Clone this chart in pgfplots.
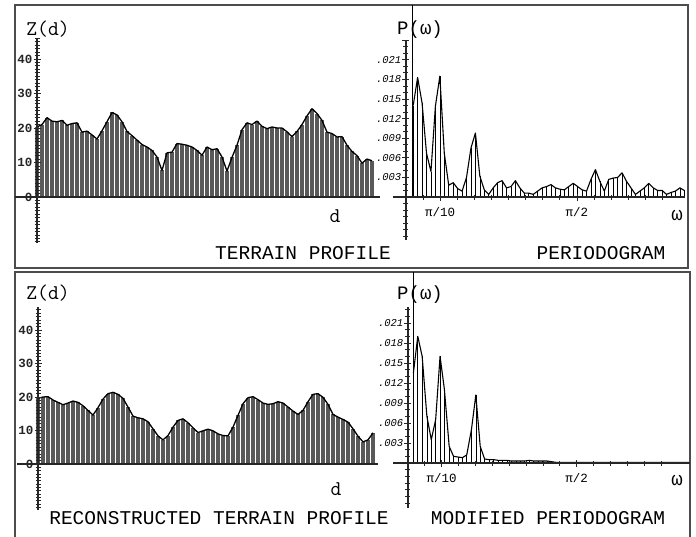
\documentclass[border=0pt]{standalone}
\usepackage{fontspec}
\usepackage{pgfplots}
\usepackage{pgfplotstable}
\pgfplotsset{compat=1.18}
\newfontfamily\plotfont{Liberation Mono}

\pgfplotstableread{
k z
0 20.3
1 21.0
2 23.0
3 22.0
4 21.8
5 22.2
6 20.8
7 21.3
8 21.5
9 18.8
10 19.1
11 18.0
12 16.8
13 19.2
14 21.8
15 24.5
16 23.8
17 21.8
18 19.0
19 17.8
20 16.5
21 15.2
22 14.5
23 13.5
24 11.6
25 7.7
26 12.8
27 13.0
28 15.5
29 15.3
30 15.0
31 14.5
32 13.5
33 12.1
34 14.5
35 13.7
36 14.0
37 11.6
38 7.5
39 11.5
40 15.0
41 19.5
42 21.5
43 21.0
44 22.0
45 20.5
46 19.8
47 20.3
48 20.0
49 20.0
50 18.9
51 17.5
52 19.0
53 21.0
54 23.5
55 25.6
56 24.2
57 22.2
58 18.8
59 18.4
60 17.4
61 17.5
62 15.0
63 13.2
64 12.0
65 9.8
66 11.0
67 10.5
}\profileA

\pgfplotstableread{
k z
0 19.6
1 20.0
2 20.1
3 19.1
4 18.4
5 17.7
6 18.2
7 18.8
8 18.4
9 17.4
10 16.0
11 14.6
12 16.8
13 19.4
14 21.0
15 21.4
16 20.8
17 19.6
18 17.0
19 14.3
20 13.8
21 13.5
22 12.6
23 10.5
24 8.4
25 7.2
26 8.5
27 11.0
28 13.0
29 13.5
30 12.3
31 10.8
32 9.4
33 9.9
34 10.4
35 9.9
36 9.0
37 8.5
38 8.4
39 11.0
40 14.5
41 18.0
42 19.8
43 20.1
44 19.2
45 18.2
46 17.8
47 18.0
48 18.6
49 18.2
50 17.0
51 15.8
52 14.8
53 16.0
54 18.6
55 20.8
56 21.0
57 19.9
58 17.8
59 14.8
60 14.0
61 13.3
62 12.5
63 10.5
64 8.3
65 6.6
66 7.2
67 9.3
}\profileB

\pgfplotstableread{
w p
0.021 0.0140
0.034 0.0183
0.047 0.0144
0.060 0.0067
0.073 0.0039
0.086 0.0139
0.099 0.0185
0.112 0.0067
0.125 0.0018
0.138 0.0022
0.151 0.0013
0.164 0.0009
0.177 0.0030
0.190 0.0075
0.203 0.0098
0.216 0.0032
0.229 0.0011
0.242 0.0004
0.255 0.0014
0.268 0.0022
0.281 0.0025
0.294 0.0014
0.307 0.0016
0.320 0.0025
0.333 0.0014
0.346 0.0006
0.359 0.0006
0.372 0.0004
0.385 0.0009
0.398 0.0014
0.411 0.0016
0.424 0.0019
0.437 0.0014
0.450 0.0012
0.463 0.0011
0.476 0.0016
0.489 0.0021
0.502 0.0016
0.515 0.0011
0.528 0.0009
0.541 0.0027
0.554 0.0042
0.567 0.0024
0.580 0.0009
0.593 0.0027
0.606 0.0029
0.619 0.0030
0.632 0.0037
0.645 0.0024
0.658 0.0014
0.671 0.0004
0.684 0.0009
0.697 0.0014
0.710 0.0021
0.723 0.0014
0.736 0.0010
0.749 0.0010
0.762 0.0004
0.775 0.0007
0.788 0.0009
0.801 0.0014
0.814 0.0010
}\perA

\pgfplotstableread{
w p
0.016 0.0135
0.029 0.0190
0.042 0.0160
0.056 0.0070
0.069 0.0035
0.082 0.0065
0.095 0.0160
0.108 0.0110
0.122 0.0025
0.135 0.0010
0.148 0.0009
0.161 0.0008
0.174 0.0012
0.188 0.0050
0.201 0.0102
0.214 0.0025
0.227 0.0006
0.240 0.0005
0.254 0.0005
0.267 0.0004
0.280 0.0004
0.293 0.0004
0.306 0.0003
0.320 0.0003
0.333 0.0003
0.346 0.0003
0.359 0.0004
0.372 0.0003
0.386 0.0003
0.399 0.0003
0.412 0.0003
0.425 0.0002
0.438 0.0001
0.452 0.0001
0.465 0.0001
0.478 0.0001
0.491 0.0001
0.504 0.0001
0.518 0.0001
0.531 0.0001
0.544 0.0001
0.557 0.0001
0.570 0.0001
0.584 0.0001
0.597 0.0001
0.610 0.0001
0.623 0.0001
0.636 0.0001
0.650 0.0001
0.663 0.0001
0.676 0.0001
0.689 0.0001
0.702 0.0001
0.716 0.0001
0.729 0.0001
0.742 0.0001
0.755 0.0001
0.768 0.0001
0.782 0.0001
0.795 0.0001
0.808 0.0001
0.821 0.0001
0.834 0.0001
}\perB

\pgfplotsset{
  panel/.style={scale only axis, axis lines=middle, enlargelimits=false, clip=false,
    axis on top, anchor=south west,
    axis line style={-, line width=1.2pt, black!85},
    every tick/.style={black!85, line width=0.9pt},
    tick align=center, major tick length=7pt, minor tick length=5pt,
    hide obscured x ticks=false, hide obscured y ticks=false},
  terrain/.style={panel, xtick=\empty, minor xtick={2.667,5.333,...,68},
    ytick={0,10,20,30,40}, yticklabels={0,10,20,30,40}, minor ytick={-13,-12,...,46},
    yticklabel style={font=\plotfont\bfseries\fontsize{12.5}{12.5}\selectfont, inner sep=1pt, text=black!85}},
  period/.style={panel, scaled y ticks=false, scaled x ticks=false,
    xtick={0.1,0.5}, xticklabels={π/10,π/2}, minor xtick={0.05,0.15,0.2,...,0.8},
    xticklabel style={font=\plotfont\fontsize{12.5}{12.5}\selectfont, yshift=-3pt},
    ytick={0.003,0.006,0.009,0.012,0.015,0.018,0.021},
    yticklabels={.003,.006,.009,.012,.015,.018,.021},
    extra y ticks={0.024}, extra y tick labels={},
    minor ytick={-0.006,-0.005,...,0.023},
    yticklabel style={font=\plotfont\itshape\fontsize{10.5}{10.5}\selectfont, inner sep=1pt}},
  comb/.style={ycomb, black!65, line width=3.3pt},
  outline/.style={black, line width=1.3pt, line join=round},
  pcomb/.style={ycomb, black, line width=0.6pt},
  pline/.style={black, line width=1.1pt, line join=round},
}

\begin{document}
\begin{tikzpicture}
\useasboundingbox (0pt,0pt) rectangle (696pt,536pt);
% frames
\draw[line width=1.6pt, black!70] (15pt,268pt) rectangle (688pt,531pt);
\draw[line width=1.6pt, black!70] (15pt,-3pt) -- (15pt,264pt) -- (690pt,264pt) -- (690pt,-3pt);

% top-left terrain profile
\begin{axis}[terrain, at={(15pt,293pt)}, width=365pt, height=205pt,
  xmin=-4.4, xmax=68.6, ymin=-13.33, ymax=46.09]
  \addplot[comb] table[x=k,y=z] {\profileA};
  \addplot[outline] table[x=k,y=z] {\profileA};
\end{axis}

% top-right periodogram
\begin{axis}[period, at={(393pt,296pt)}, width=292pt, height=200pt,
  xmin=-0.038, xmax=0.816, ymin=-0.00658, ymax=0.02404]
  \addplot[pcomb, line width=0.9pt] coordinates {(0.020,0.0294)};
  \addplot[pcomb] table[x=w,y=p] {\perA};
  \addplot[pline] table[x=w,y=p] {\perA};
\end{axis}

% bottom-left reconstructed profile
\begin{axis}[terrain, at={(17pt,26pt)}, width=361pt, height=203pt,
  xmin=-4.2, xmax=68, ymin=-13.73, ymax=46.87]
  \addplot[comb] table[x=k,y=z] {\profileB};
  \addplot[outline] table[x=k,y=z] {\profileB};
\end{axis}

% bottom-right modified periodogram
\begin{axis}[period, at={(393pt,28pt)}, width=297pt, height=201pt,
  xmin=-0.0444, xmax=0.8356, ymin=-0.00675, ymax=0.0234]
  \addplot[pcomb, line width=0.9pt] coordinates {(0.015,0.0286)};
  \addplot[pcomb] table[x=w,y=p] {\perB};
  \addplot[pline] table[x=w,y=p] {\perB};
\end{axis}

% labels
\node[font=\ttfamily\fontsize{21}{21}\selectfont] at (48pt,507pt) {Z(d)};
\node[font=\ttfamily\fontsize{21}{21}\selectfont] at (335pt,320pt) {d};
\node[font=\plotfont\fontsize{19.5}{19.5}\selectfont] at (303pt,283pt) {TERRAIN PROFILE};
\node[font=\plotfont\fontsize{19}{19}\selectfont] at (420pt,506pt) {P(ω)};
\node[font=\plotfont\fontsize{19}{19}\selectfont] at (677pt,321pt) {ω};
\node[font=\plotfont\fontsize{19.5}{19.5}\selectfont] at (601pt,283pt) {PERIODOGRAM};

\node[font=\ttfamily\fontsize{21}{21}\selectfont] at (48pt,243pt) {Z(d)};
\node[font=\ttfamily\fontsize{21}{21}\selectfont] at (336pt,47pt) {d};
\node[font=\plotfont\fontsize{19.5}{19.5}\selectfont] at (219pt,18pt) {RECONSTRUCTED TERRAIN PROFILE};
\node[font=\plotfont\fontsize{19}{19}\selectfont] at (420pt,241pt) {P(ω)};
\node[font=\plotfont\fontsize{19}{19}\selectfont] at (677pt,56pt) {ω};
\node[font=\plotfont\fontsize{19.5}{19.5}\selectfont] at (548pt,18pt) {MODIFIED PERIODOGRAM};
\end{tikzpicture}
\end{document}
